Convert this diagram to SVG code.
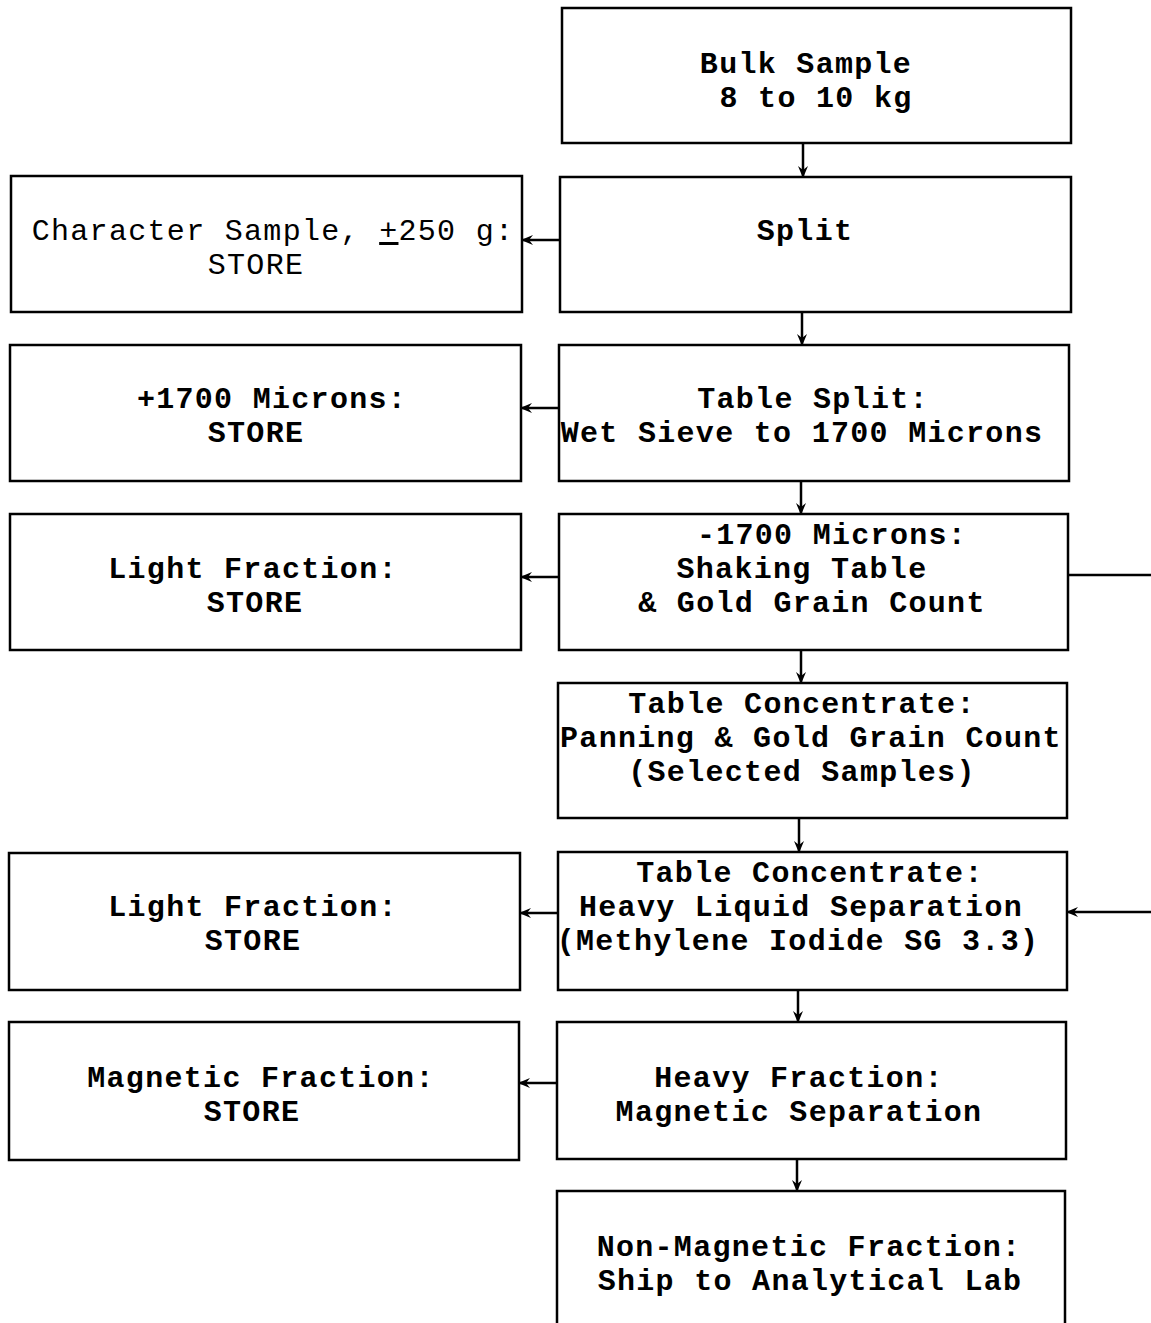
<svg xmlns="http://www.w3.org/2000/svg" width="1151" height="1323" viewBox="0 0 1151 1323">
<style>
.box{fill:#fff;stroke:#000;stroke-width:2.5}
.t{font-family:"Liberation Mono","Courier New",monospace;font-size:30px;letter-spacing:1.3px;font-weight:bold;text-anchor:middle;fill:#000}
.n{font-weight:normal}
.c{fill:none;stroke:#000;stroke-width:2.5}
</style>
<defs>
<marker id="ah" viewBox="0 0 12 10" refX="11" refY="5" markerWidth="12" markerHeight="10" markerUnits="userSpaceOnUse" orient="auto">
<path d="M0,0 L12,5 L0,10 L4,5 Z" fill="#000"/>
</marker>
</defs>
<rect width="1151" height="1323" fill="#fff"/>
<g id="bulk"><rect class="box" x="562" y="8" width="509" height="135"/><text class="t" x="806" y="73">Bulk Sample</text><text class="t" x="816" y="107">8 to 10 kg</text></g>
<g id="split"><rect class="box" x="560" y="177" width="511" height="135"/><text class="t" x="805" y="240">Split</text></g>
<g id="charsample"><rect class="box" x="11" y="176" width="511" height="136"/><text class="t n" x="273" y="240">Character Sample, <tspan text-decoration="underline">+</tspan>250 g:</text><text class="t n" x="256" y="274">STORE</text></g>
<g id="tablesplit"><rect class="box" x="559" y="345" width="510" height="136"/><text class="t" x="813" y="408">Table Split:</text><text class="t" x="802" y="442">Wet Sieve to 1700 Microns</text></g>
<g id="plus1700"><rect class="box" x="10" y="345" width="511" height="136"/><text class="t" x="272" y="408">+1700 Microns:</text><text class="t" x="256" y="442">STORE</text></g>
<g id="minus1700"><rect class="box" x="559" y="514" width="509" height="136"/><text class="t" x="832" y="544">-1700 Microns:</text><text class="t" x="802" y="578">Shaking Table</text><text class="t" x="812" y="612">&amp; Gold Grain Count</text></g>
<g id="light1"><rect class="box" x="10" y="514" width="511" height="136"/><text class="t" x="253" y="578">Light Fraction:</text><text class="t" x="255" y="612">STORE</text></g>
<g id="panning"><rect class="box" x="558" y="683" width="509" height="135"/><text class="t" x="802" y="713">Table Concentrate:</text><text class="t" x="811" y="747">Panning &amp; Gold Grain Count</text><text class="t" x="802" y="781">(Selected Samples)</text></g>
<g id="hls"><rect class="box" x="558" y="852" width="509" height="138"/><text class="t" x="810" y="882">Table Concentrate:</text><text class="t" x="801" y="916">Heavy Liquid Separation</text><text class="t" x="798" y="950">(Methylene Iodide SG 3.3)</text></g>
<g id="light2"><rect class="box" x="9" y="853" width="511" height="137"/><text class="t" x="253" y="916">Light Fraction:</text><text class="t" x="253" y="950">STORE</text></g>
<g id="heavy"><rect class="box" x="557" y="1022" width="509" height="137"/><text class="t" x="799" y="1087">Heavy Fraction:</text><text class="t" x="799" y="1121">Magnetic Separation</text></g>
<g id="magnetic"><rect class="box" x="9" y="1022" width="510" height="138"/><text class="t" x="261" y="1087">Magnetic Fraction:</text><text class="t" x="252" y="1121">STORE</text></g>
<g id="nonmag"><rect class="box" x="557" y="1191" width="508" height="160"/><text class="t" x="809" y="1256">Non-Magnetic Fraction:</text><text class="t" x="810" y="1290">Ship to Analytical Lab</text></g>
<g id="connectors">
<line class="c" x1="803" y1="143" x2="803" y2="177" marker-end="url(#ah)"/>
<line class="c" x1="802" y1="312" x2="802" y2="345" marker-end="url(#ah)"/>
<line class="c" x1="801" y1="481" x2="801" y2="514" marker-end="url(#ah)"/>
<line class="c" x1="801" y1="650" x2="801" y2="683" marker-end="url(#ah)"/>
<line class="c" x1="799" y1="818" x2="799" y2="852" marker-end="url(#ah)"/>
<line class="c" x1="798" y1="990" x2="798" y2="1022" marker-end="url(#ah)"/>
<line class="c" x1="797" y1="1159" x2="797" y2="1191" marker-end="url(#ah)"/>
<line class="c" x1="560" y1="240" x2="522" y2="240" marker-end="url(#ah)"/>
<line class="c" x1="559" y1="408" x2="521" y2="408" marker-end="url(#ah)"/>
<line class="c" x1="559" y1="577" x2="521" y2="577" marker-end="url(#ah)"/>
<line class="c" x1="558" y1="913" x2="520" y2="913" marker-end="url(#ah)"/>
<line class="c" x1="557" y1="1083" x2="519" y2="1083" marker-end="url(#ah)"/>
<line class="c" x1="1068" y1="575" x2="1151" y2="575"/>
<line class="c" x1="1151" y1="912" x2="1067" y2="912" marker-end="url(#ah)"/>
</g>
</svg>
